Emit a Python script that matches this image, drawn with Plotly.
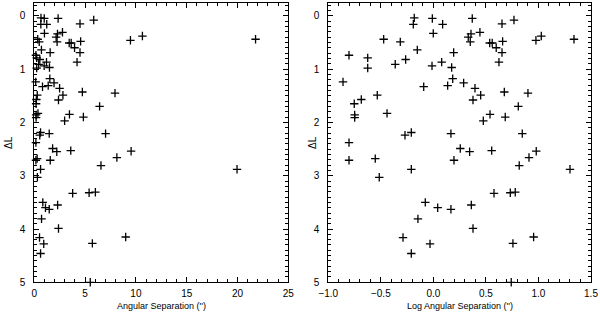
import numpy as np
import plotly.graph_objects as go

# Log angular separation (log10 arcsec) and magnitude difference
log_sep = [-0.182, -0.191, -0.010, 0.088, -0.001, -0.473, -0.315, -0.153, 0.193, -0.803,
           -0.625, -0.264, 0.079, -0.363, -0.013, -0.625, 0.174, 0.184, -0.860, -0.092,
           0.136, -0.686, -0.534, -0.753, -0.441, -0.749, -0.749, -0.210, -0.270, 0.167,
           -0.803, 0.370, 0.653, 0.767, 0.443, 0.358, 0.332, 0.351, 0.536, 0.560,
           0.659, 0.598, 0.653, 0.624, 0.976, 1.027, 1.338, 0.288, 0.396, 0.675,
           0.900, 0.450, 0.377, 0.808, 0.539, 0.684, 0.475, 0.846, -0.803, -0.553,
           0.196, -0.210, -0.515, -0.077, 0.041, 0.167, -0.147, -0.289, -0.032, -0.210,
           0.256, 0.345, 0.555, 0.979, 0.910, 0.817, 1.300, 0.577, 0.732, 0.779,
           0.361, 0.377, 0.757, 0.954, 0.741]
delta_L = [0.04, 0.16, 0.05, 0.16, 0.33, 0.44, 0.49, 0.64, 0.69, 0.74,
           0.79, 0.82, 0.87, 0.91, 0.94, 0.98, 0.97, 1.18, 1.24, 1.33,
           1.31, 1.57, 1.49, 1.65, 1.83, 1.86, 1.91, 2.19, 2.24, 2.21,
           2.38, 0.05, 0.15, 0.08, 0.31, 0.34, 0.40, 0.49, 0.51, 0.51,
           0.48, 0.60, 0.69, 0.87, 0.46, 0.38, 0.44, 1.26, 1.36, 1.43,
           1.45, 1.49, 1.58, 1.70, 1.85, 1.90, 1.97, 2.21, 2.71, 2.68,
           2.71, 2.88, 3.03, 3.50, 3.60, 3.63, 3.81, 4.16, 4.28, 4.46,
           2.49, 2.55, 2.53, 2.54, 2.66, 2.81, 2.88, 3.33, 3.32, 3.31,
           3.55, 3.99, 4.27, 4.15, 5.00]

sep = [10 ** v for v in log_sep]

left_ticks = [0, 5, 10, 15, 20, 25]
right_ticks = [-1.0, -0.5, 0.0, 0.5, 1.0, 1.5]
right_ticklabels = ["\u22121.0", "\u22120.5", "0.0", "0.5", "1.0", "1.5"]
y_ticks = [0, 1, 2, 3, 4, 5]

W, H = 600, 314
FAM = "Liberation Sans, Arial, sans-serif"
font = dict(family=FAM, size=10, color="black")

marker = dict(symbol="cross-thin", size=6, line=dict(color="black", width=1.3), color="black")

fig = go.Figure()
fig.add_trace(go.Scatter(x=sep, y=delta_L, mode="markers", marker=marker,
                         xaxis="x", yaxis="y", showlegend=False, cliponaxis=False))
fig.add_trace(go.Scatter(x=log_sep, y=delta_L, mode="markers", marker=marker,
                         xaxis="x2", yaxis="y2", showlegend=False, cliponaxis=False))

ydom = [1 - 282.3 / H, 1 - 3 / H]
common_axis = dict(showline=True, linecolor="black", linewidth=1, mirror="allticks",
                   ticks="inside", ticklen=5, tickwidth=1, tickcolor="black",
                   showgrid=False, zeroline=False, tickfont=font, automargin=False)
minor_x_left = dict(dtick=1, ticklen=3, ticks="inside", tickcolor="black")
minor_01 = dict(dtick=0.1, ticklen=3, ticks="inside", tickcolor="black")

fig.update_layout(
    width=W, height=H,
    margin=dict(l=0, r=0, t=0, b=0),
    paper_bgcolor="white", plot_bgcolor="white",
    font=font,
    xaxis=dict(domain=[34.3 / W, 288.3 / W], range=[0, 25], tickvals=left_ticks,
               anchor="y", ticklabelstandoff=2, minor=minor_x_left, **common_axis),
    yaxis=dict(domain=ydom, range=[5, -0.24], tickvals=y_ticks, anchor="x",
               ticklabelstandoff=6, minor=minor_01, **common_axis),
    xaxis2=dict(domain=[328.3 / W, 591 / W], range=[-1, 1.5], tickvals=right_ticks,
                ticktext=right_ticklabels, anchor="y2", ticklabelstandoff=2,
                minor=minor_01, **common_axis),
    yaxis2=dict(domain=ydom, range=[5, -0.24], tickvals=y_ticks, anchor="x2",
                ticklabelstandoff=6, minor=minor_01, **common_axis),
    annotations=[
        dict(text="Angular Separation ('')", x=161 / W, y=1 - 306 / H, xref="paper",
             yref="paper", xanchor="center", yanchor="middle", showarrow=False,
             font=dict(size=9, family=FAM)),
        dict(text="Log Angular Separation ('')", x=460 / W, y=1 - 306 / H, xref="paper",
             yref="paper", xanchor="center", yanchor="middle", showarrow=False,
             font=dict(size=9, family=FAM)),
        dict(text="\u0394L", x=8 / W, y=1 - 143 / H, xref="paper", yref="paper",
             xanchor="center", yanchor="middle", showarrow=False, textangle=-90,
             font=dict(size=10, family=FAM)),
        dict(text="\u0394L", x=312 / W, y=1 - 143 / H, xref="paper", yref="paper",
             xanchor="center", yanchor="middle", showarrow=False, textangle=-90,
             font=dict(size=10, family=FAM)),
    ],
)

fig.write_html("out.html", config={"displayModeBar": False},
               post_script="document.body.style.margin='0px';document.body.style.overflow='hidden';")
